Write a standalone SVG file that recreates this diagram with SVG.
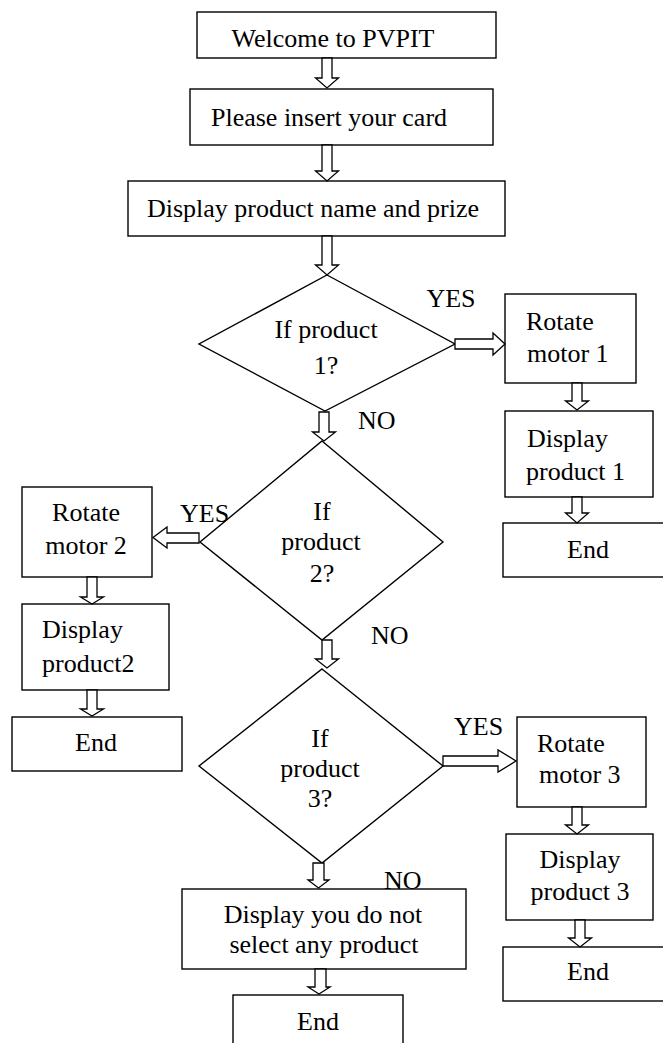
<svg xmlns="http://www.w3.org/2000/svg" width="663" height="1043" viewBox="0 0 663 1043">
<style>
.n{fill:#fff;stroke:#000;stroke-width:1.4}
.a{fill:#fff;stroke:#000;stroke-width:1.3;stroke-linejoin:miter}
text{font-family:"Liberation Serif","Times New Roman",serif;font-size:26px;fill:#000}
.c{text-anchor:middle}
</style>
<rect width="663" height="1043" fill="#fff"/>
<g id="start"><rect class="n" x="197" y="12" width="299" height="46"/><text class="c" x="333" y="47">Welcome to PVPIT</text></g>
<g id="insert"><rect class="n" x="190" y="89" width="303" height="56"/><text class="c" x="329" y="126">Please insert your card</text></g>
<g id="display"><rect class="n" x="128" y="181" width="377" height="55"/><text class="c" x="313" y="217">Display product name and prize</text></g>
<g id="d1"><polygon class="n" points="327,275 455,344 325,411 199,344"/><text class="c" x="326" y="338">If product</text><text class="c" x="326" y="374">1?</text></g>
<g id="rot1"><rect class="n" x="505" y="294" width="131" height="89"/><text x="526" y="330">Rotate</text><text x="527" y="362">motor 1</text></g>
<g id="disp1"><rect class="n" x="505" y="411" width="148" height="86"/><text x="527" y="447">Display</text><text x="526" y="480">product 1</text></g>
<g id="end1"><rect class="n" x="503" y="523" width="175" height="54"/><text class="c" x="588" y="558">End</text></g>
<g id="d2"><polygon class="n" points="322,441 443,542 322,640 200,542"/><text class="c" x="322" y="520">If</text><text class="c" x="321" y="550">product</text><text class="c" x="322" y="582">2?</text></g>
<g id="rot2"><rect class="n" x="22" y="487" width="130" height="90"/><text class="c" x="86" y="521">Rotate</text><text class="c" x="86" y="554">motor 2</text></g>
<g id="disp2"><rect class="n" x="22" y="604" width="147" height="86"/><text x="42" y="638">Display</text><text x="42" y="672">product2</text></g>
<g id="end2"><rect class="n" x="12" y="717" width="170" height="54"/><text class="c" x="96" y="751">End</text></g>
<g id="d3"><polygon class="n" points="322,669 443,766 322,863 199,766"/><text class="c" x="320" y="747">If</text><text class="c" x="320" y="777">product</text><text class="c" x="320" y="807">3?</text></g>
<g id="rot3"><rect class="n" x="517" y="717" width="129" height="90"/><text x="537" y="752">Rotate</text><text x="539" y="783">motor 3</text></g>
<g id="disp3"><rect class="n" x="506" y="834" width="147" height="86"/><text class="c" x="580" y="868">Display</text><text class="c" x="580" y="900">product 3</text></g>
<g id="end3"><rect class="n" x="503" y="947" width="175" height="54"/><text class="c" x="588" y="980">End</text></g>
<g id="none"><rect class="n" x="182" y="889" width="284" height="80"/><text class="c" x="323" y="923">Display you do not</text><text class="c" x="324" y="953">select any product</text></g>
<g id="end4"><rect class="n" x="233" y="995" width="170" height="60"/><text class="c" x="318" y="1030">End</text></g>
<g id="connectors">
<polygon class="a" points="322,58 332,58 332,78 338.5,78 327,88 315.5,78 322,78"/>
<polygon class="a" points="322,145 332,145 332,171 338.5,171 327,181 315.5,171 322,171"/>
<polygon class="a" points="322,236 332,236 332,265 338.5,265 327,275 315.5,265 322,265"/>
<polygon class="a" points="319,412 329,412 329,432 335.5,432 324,441 312.5,432 319,432"/>
<polygon class="a" points="322,640 332,640 332,659 338.5,659 327,668 315.5,659 322,659"/>
<polygon class="a" points="313,863 324,863 324,880 329,880 318.5,888 308,880 313,880"/>
<polygon class="a" points="315,969 326,969 326,987 330,987 319,994 308,987 315,987"/>
<polygon class="a" points="572,383 582,383 582,401 588.5,401 577,410 565.5,401 572,401"/>
<polygon class="a" points="572,497 582,497 582,513 588.5,513 577,523 565.5,513 572,513"/>
<polygon class="a" points="87,577 97,577 97,597 103.5,597 92,604 80.5,597 87,597"/>
<polygon class="a" points="87,690 97,690 97,709 103.5,709 92,716 80.5,709 87,709"/>
<polygon class="a" points="572,807 582,807 582,825 588.5,825 577,834 565.5,825 572,825"/>
<polygon class="a" points="575,920 585,920 585,938 591.5,938 580,947 568.5,938 575,938"/>
<polygon class="a" points="455,339 493,339 493,333 505,344 493,355 493,349 455,349"/>
<polygon class="a" points="199,533 167,533 167,527 153,537.5 167,548 167,543 199,543"/>
<polygon class="a" points="443,756 498,756 498,750 516,761 498,772 498,766 443,766"/>
</g>
<g id="labels">
<text class="c" x="451" y="307">YES</text>
<text x="358" y="429">NO</text>
<text x="180" y="522">YES</text>
<text x="371" y="644">NO</text>
<text x="454" y="735">YES</text>
<text x="384" y="889">NO</text>
</g>
</svg>
